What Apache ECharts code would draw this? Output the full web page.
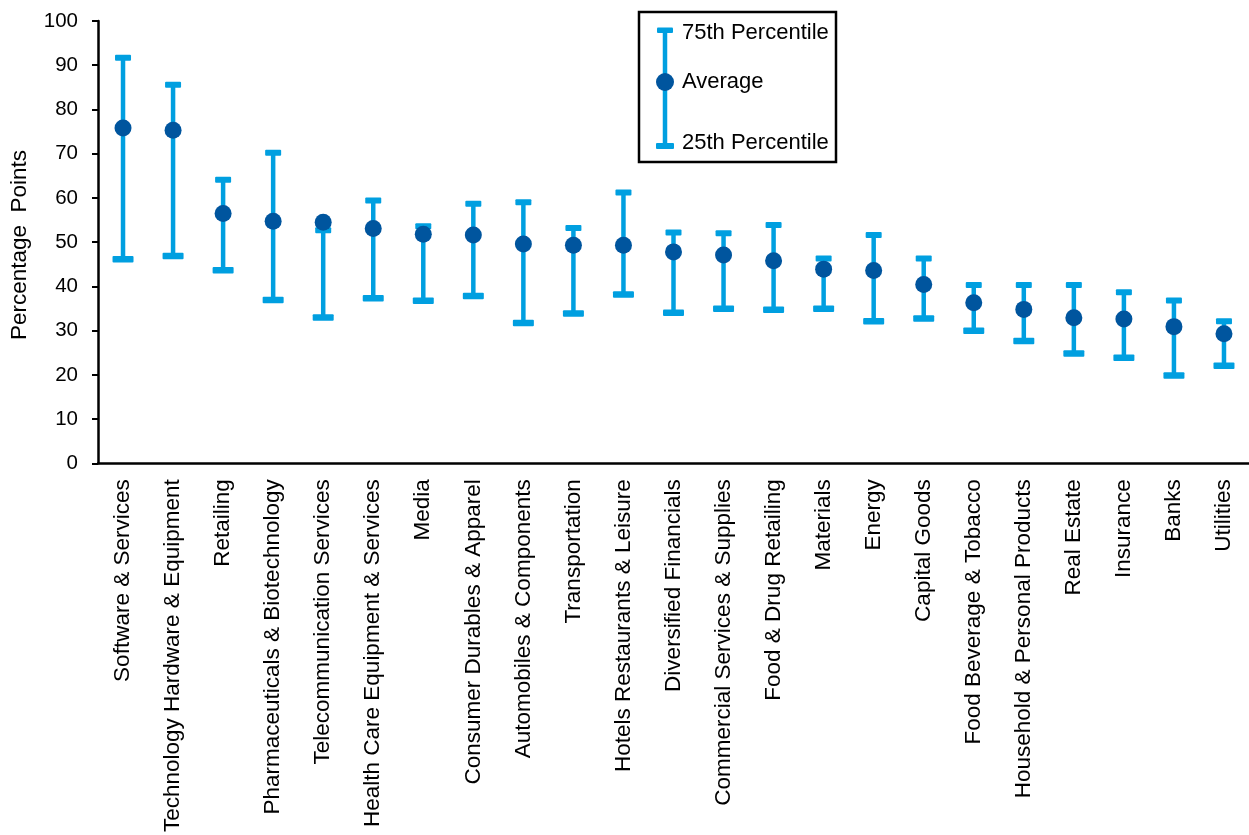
<!DOCTYPE html>
<html>
<head>
<meta charset="utf-8">
<script src="https://cdn.jsdelivr.net/npm/echarts@6/dist/echarts.min.js"></script>
<style>
html,body{margin:0;padding:0;background:#fff;}
#chart{width:1249px;height:835px;}
</style>
</head>
<body>
<div id="chart"></div>
<script>
const categories = [
  'Software & Services','Technology Hardware & Equipment','Retailing','Pharmaceuticals & Biotechnology',
  'Telecommunication Services','Health Care Equipment & Services','Media','Consumer Durables & Apparel',
  'Automobiles & Components','Transportation','Hotels Restaurants & Leisure','Diversified Financials',
  'Commercial Services & Supplies','Food & Drug Retailing','Materials','Energy','Capital Goods',
  'Food Beverage & Tobacco','Household & Personal Products','Real Estate','Insurance','Banks','Utilities'
];
const p75 = [91.7,85.6,64.1,70.2,52.7,59.4,53.6,58.7,59.0,53.2,61.2,52.2,52.0,53.9,46.3,51.6,46.3,40.3,40.3,40.3,38.7,36.8,32.1];
const average = [75.8,75.3,56.5,54.7,54.5,53.1,51.8,51.6,49.6,49.3,49.3,47.8,47.1,45.8,43.9,43.6,40.4,36.3,34.8,32.9,32.6,30.9,29.3];
const p25 = [46.2,46.9,43.7,37.0,33.0,37.4,36.8,37.9,31.8,33.9,38.2,34.1,35.0,34.8,35.0,32.2,32.8,30.0,27.7,24.9,23.9,19.9,22.1];
const yTicks = [0,10,20,30,40,50,60,70,80,90,100];

const LIGHT = '#009FE0';
const DARK = '#00559E';
const FONT = '"Liberation Sans", Arial, sans-serif';

const chart = echarts.init(document.getElementById('chart'), null, {renderer:'canvas'});

const errData = categories.map((c,i)=>[i, p25[i], p75[i]]);

function renderErr(params, api){
  const x = api.value(0);
  const lo = api.coord([x, api.value(1)]);
  const hi = api.coord([x, api.value(2)]);
  const cx = lo[0];
  return {
    type:'group',
    children:[
      {type:'line', shape:{x1:cx,y1:hi[1],x2:cx,y2:lo[1]}, style:{stroke:LIGHT,lineWidth:4.5}},
      {type:'rect', shape:{x:cx-8,y:hi[1]-3,width:16,height:6,r:1}, style:{fill:LIGHT}},
      {type:'rect', shape:{x:cx-10.5,y:lo[1]-3,width:21,height:6.5,r:1}, style:{fill:LIGHT}}
    ]
  };
}

const option = {
  animation:false,
  backgroundColor:'#ffffff',
  grid:{left:98, top:21, height:446, width:1160, containLabel:false},
  xAxis:{
    type:'category',
    data:categories,
    axisLine:{show:true, lineStyle:{color:'#000', width:2.5}},
    axisTick:{show:false},
    axisLabel:{rotate:90, interval:0, margin:16, color:'#000', fontSize:22.5, fontFamily:FONT},
    splitLine:{show:false}
  },
  yAxis:{
    type:'value',
    min:yTicks[0], max:yTicks[yTicks.length-1], interval:10,
    axisLine:{show:true, lineStyle:{color:'#000', width:2.5}},
    axisTick:{show:true, inside:false, length:6, lineStyle:{color:'#000', width:2}},
    axisLabel:{margin:20, color:'#000', fontSize:20.5, fontFamily:FONT},
    splitLine:{show:false}
  },
  graphic:[
    {type:'text', x:20, y:245, rotation:Math.PI/2, style:{text:'Percentage  Points', font:'22.5px '+FONT, fill:'#000', textAlign:'center', textVerticalAlign:'middle'}},
    {type:'rect', shape:{x:639, y:12, width:197, height:150}, style:{fill:'#fff', stroke:'#000', lineWidth:2.5}, z:10},
    {type:'line', shape:{x1:665,y1:30,x2:665,y2:146}, style:{stroke:LIGHT,lineWidth:4.5}, z:11},
    {type:'rect', shape:{x:657,y:27.5,width:16,height:5.5,r:1}, style:{fill:LIGHT}, z:11},
    {type:'rect', shape:{x:656,y:143,width:18,height:6,r:1}, style:{fill:LIGHT}, z:11},
    {type:'circle', shape:{cx:665,cy:82,r:9}, style:{fill:DARK}, z:12},
    {type:'text', x:682, y:33, style:{text:'75th Percentile', font:'22px '+FONT, fill:'#000', textVerticalAlign:'middle'}, z:12},
    {type:'text', x:682, y:82, style:{text:'Average', font:'22px '+FONT, fill:'#000', textVerticalAlign:'middle'}, z:12},
    {type:'text', x:682, y:143, style:{text:'25th Percentile', font:'22px '+FONT, fill:'#000', textVerticalAlign:'middle'}, z:12}
  ],
  series:[
    {type:'custom', renderItem:renderErr, data:errData, encode:{x:0, y:[1,2]}, z:2, clip:false},
    {type:'scatter', data:average, symbol:'circle', symbolSize:17, itemStyle:{color:DARK, opacity:1}, z:3}
  ]
};
chart.setOption(option);
</script>
</body>
</html>
